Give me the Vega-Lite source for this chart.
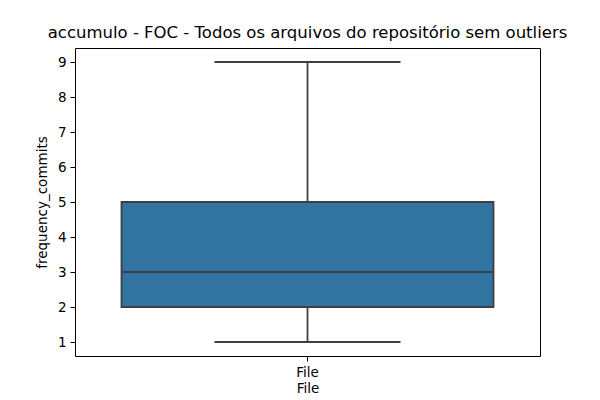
{
  "$schema": "https://vega.github.io/schema/vega-lite/v6.json",
  "autosize": "none",
  "width": 465,
  "height": 308,
  "padding": {"left": 75, "top": 48, "right": 60, "bottom": 44},
  "background": "white",
  "config": {
    "font": "DejaVu Sans",
    "view": {"stroke": "black", "strokeWidth": 1},
    "axis": {
      "grid": false,
      "domain": false,
      "tickColor": "black",
      "tickSize": 5,
      "tickWidth": 1,
      "labelFont": "DejaVu Sans",
      "labelFontSize": 13.5,
      "labelColor": "black",
      "labelPadding": 4,
      "titleFont": "DejaVu Sans",
      "titleFontSize": 13.5,
      "titleFontWeight": "normal",
      "titleColor": "black"
    }
  },
  "title": {
    "text": "accumulo - FOC - Todos os arquivos do repositório sem outliers",
    "fontSize": 16.5,
    "fontWeight": "normal",
    "font": "DejaVu Sans",
    "color": "black",
    "offset": 7
  },
  "data": {
    "values": [
      {"File": "File", "lower": 1, "q1": 2, "median": 3, "q3": 5, "upper": 9}
    ]
  },
  "encoding": {
    "x": {
      "field": "File",
      "type": "nominal",
      "title": "File",
      "scale": {"paddingInner": 0, "paddingOuter": 0},
      "axis": {"labelAngle": 0, "titlePadding": 3}
    }
  },
  "layer": [
    {
      "mark": {"type": "rule", "color": "#3f3f3f", "strokeWidth": 1.8},
      "encoding": {
        "y": {
          "field": "lower",
          "type": "quantitative",
          "title": "frequency_commits",
          "scale": {"domain": [0.6, 9.4], "nice": false, "zero": false},
          "axis": {"values": [1, 2, 3, 4, 5, 6, 7, 8, 9], "labelOverlap": false, "titlePadding": 8}
        },
        "y2": {"field": "q1"}
      }
    },
    {
      "mark": {"type": "rule", "color": "#3f3f3f", "strokeWidth": 1.8},
      "encoding": {
        "y": {"field": "q3", "type": "quantitative", "title": "frequency_commits", "axis": {"values": [1, 2, 3, 4, 5, 6, 7, 8, 9], "labelOverlap": false, "titlePadding": 8}},
        "y2": {"field": "upper"}
      }
    },
    {
      "mark": {"type": "bar", "width": {"band": 0.8}, "fill": "#3274a1", "stroke": "#3f3f3f", "strokeWidth": 1.8},
      "encoding": {
        "y": {"field": "q1", "type": "quantitative", "title": "frequency_commits", "axis": {"values": [1, 2, 3, 4, 5, 6, 7, 8, 9], "labelOverlap": false, "titlePadding": 8}},
        "y2": {"field": "q3"}
      }
    },
    {
      "mark": {"type": "tick", "orient": "horizontal", "size": 372, "thickness": 1.8, "color": "#3f3f3f", "opacity": 1},
      "encoding": {
        "y": {"field": "median", "type": "quantitative", "title": "frequency_commits", "axis": {"values": [1, 2, 3, 4, 5, 6, 7, 8, 9], "labelOverlap": false, "titlePadding": 8}}
      }
    },
    {
      "mark": {"type": "tick", "orient": "horizontal", "size": 186, "thickness": 1.8, "color": "#3f3f3f", "opacity": 1},
      "encoding": {
        "y": {"field": "lower", "type": "quantitative", "title": "frequency_commits", "axis": {"values": [1, 2, 3, 4, 5, 6, 7, 8, 9], "labelOverlap": false, "titlePadding": 8}}
      }
    },
    {
      "mark": {"type": "tick", "orient": "horizontal", "size": 186, "thickness": 1.8, "color": "#3f3f3f", "opacity": 1},
      "encoding": {
        "y": {"field": "upper", "type": "quantitative", "title": "frequency_commits", "axis": {"values": [1, 2, 3, 4, 5, 6, 7, 8, 9], "labelOverlap": false, "titlePadding": 8}}
      }
    }
  ]
}
